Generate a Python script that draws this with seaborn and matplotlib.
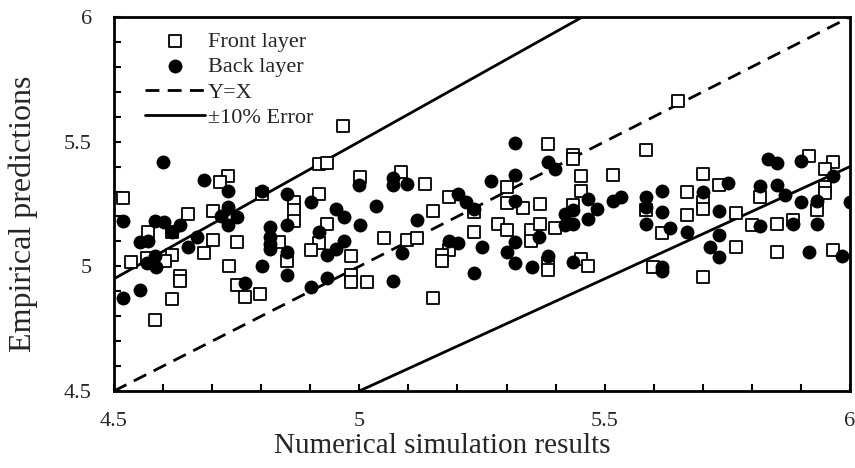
import numpy as np
import pandas as pd
import matplotlib
matplotlib.use('Agg')
import matplotlib.pyplot as plt
import seaborn as sns

# values
front_x = [4.518, 4.733, 4.717, 4.651, 4.701, 4.569, 4.618, 4.701, 4.750, 4.684,
           4.618, 4.535, 4.567, 4.603, 4.734, 4.635, 4.635, 4.750, 4.768, 4.798,
           4.618, 4.584, 4.967, 4.918, 4.935, 5.001, 5.084, 4.801, 4.918, 4.867,
           4.867, 4.867, 4.935, 4.837, 4.918, 4.901, 4.852, 4.984, 5.051, 5.098,
           4.984, 4.984, 5.016, 5.384, 5.134, 5.300, 5.183, 5.151, 5.234, 5.300,
           5.334, 5.368, 5.283, 5.300, 5.234, 5.350, 5.350, 5.368, 5.399, 5.117,
           5.183, 5.168, 5.168, 5.384, 5.384, 5.151, 5.650, 5.435, 5.435, 5.584,
           5.451, 5.518, 5.700, 5.451, 5.667, 5.435, 5.584, 5.700, 5.700, 5.667,
           5.616, 5.451, 5.467, 5.599, 5.700, 5.917, 5.966, 5.949, 5.734, 5.949,
           5.949, 5.817, 5.933, 5.768, 5.800, 5.851, 5.884, 5.768, 5.851, 5.966]
front_y = [5.275, 5.362, 5.338, 5.208, 5.220, 5.137, 5.137, 5.107, 5.096, 5.052,
           5.046, 5.019, 5.032, 5.023, 5.000, 4.960, 4.943, 4.925, 4.878, 4.891,
           4.869, 4.784, 5.562, 5.409, 5.414, 5.358, 5.378, 5.291, 5.291, 5.257,
           5.227, 5.180, 5.170, 5.099, 5.092, 5.066, 5.023, 5.043, 5.113, 5.106,
           4.965, 4.936, 4.936, 5.489, 5.329, 5.320, 5.277, 5.221, 5.217, 5.253,
           5.235, 5.251, 5.168, 5.144, 5.137, 5.146, 5.100, 5.170, 5.154, 5.114,
           5.066, 5.047, 5.023, 5.012, 4.985, 4.875, 5.663, 5.448, 5.432, 5.465,
           5.361, 5.367, 5.372, 5.304, 5.298, 5.244, 5.227, 5.257, 5.231, 5.207,
           5.133, 5.030, 5.003, 4.996, 4.956, 5.441, 5.418, 5.389, 5.327, 5.318,
           5.293, 5.277, 5.227, 5.213, 5.164, 5.168, 5.187, 5.079, 5.056, 5.067]

back_x = [4.600, 4.684, 4.733, 4.801, 4.518, 4.584, 4.602, 4.635, 4.618, 4.552,
          4.569, 4.733, 4.719, 4.750, 4.733, 4.669, 4.650, 4.584, 4.567, 4.585,
          4.801, 4.768, 4.552, 4.518, 4.852, 4.901, 5.000, 5.068, 5.068, 5.098,
          4.952, 4.969, 5.034, 5.001, 4.817, 4.817, 4.817, 4.817, 4.852, 4.918,
          4.969, 4.952, 4.935, 4.852, 4.852, 4.935, 4.901, 5.068, 5.086, 5.317,
          5.384, 5.399, 5.268, 5.317, 5.202, 5.217, 5.234, 5.317, 5.117, 5.183,
          5.202, 5.251, 5.300, 5.317, 5.367, 5.317, 5.351, 5.384, 5.234, 5.467,
          5.484, 5.467, 5.518, 5.533, 5.419, 5.435, 5.419, 5.435, 5.584, 5.584,
          5.584, 5.616, 5.616, 5.633, 5.667, 5.700, 5.435, 5.616, 5.616, 5.715,
          5.833, 5.851, 5.900, 5.966, 5.751, 5.817, 5.851, 5.867, 5.900, 5.933,
          6.000, 5.734, 5.817, 5.884, 5.933, 5.734, 5.734, 5.917, 5.983]
back_y = [5.418, 5.345, 5.304, 5.304, 5.180, 5.180, 5.177, 5.166, 5.137, 5.099,
          5.103, 5.237, 5.200, 5.197, 5.166, 5.117, 5.076, 5.040, 5.012, 4.996,
          5.000, 4.933, 4.905, 4.875, 5.291, 5.260, 5.327, 5.355, 5.327, 5.330,
          5.231, 5.197, 5.240, 5.166, 5.157, 5.117, 5.090, 5.070, 5.164, 5.137,
          5.103, 5.070, 5.046, 5.056, 4.965, 4.953, 4.916, 4.942, 5.054, 5.495,
          5.418, 5.389, 5.342, 5.365, 5.291, 5.260, 5.231, 5.264, 5.187, 5.100,
          5.092, 5.076, 5.056, 5.096, 5.119, 5.012, 4.999, 5.041, 4.972, 5.271,
          5.231, 5.188, 5.264, 5.280, 5.211, 5.224, 5.164, 5.170, 5.280, 5.237,
          5.170, 5.304, 5.217, 5.153, 5.137, 5.300, 5.016, 4.996, 4.980, 5.076,
          5.432, 5.414, 5.421, 5.361, 5.334, 5.324, 5.327, 5.288, 5.257, 5.264,
          5.260, 5.220, 5.160, 5.170, 5.168, 5.127, 5.036, 5.056, 5.043]

ref_x = [4.5, 6.0]
error_pct = 0.10
ticks = [4.5, 5.0, 5.5, 6.0]
tick_labels = ['4.5', '5', '5.5', '6']

front = pd.DataFrame({'x': front_x, 'y': front_y})
back = pd.DataFrame({'x': back_x, 'y': back_y})
ref = pd.DataFrame({'x': ref_x})
ref['y'] = ref['x']
ref['upper'] = ref['x'] * (1 + error_pct)
ref['lower'] = ref['x'] * (1 - error_pct)

sns.set_style('ticks')
plt.rcParams['font.family'] = ['Liberation Serif', 'DejaVu Serif']

fig = plt.figure(figsize=(8.55, 4.68), dpi=100)
ax = fig.add_axes([114 / 855, 1 - 391 / 468, 736 / 855, 374 / 468])

ax.plot(ref['x'], ref['y'], color='black', lw=2, dashes=(5, 3), label='Y=X', zorder=2)
ax.plot(ref['x'], ref['upper'], color='black', lw=2, label='\u00b110% Error', zorder=2)
ax.plot(ref['x'], ref['lower'], color='black', lw=2, zorder=2)

sns.scatterplot(data=front, x='x', y='y', ax=ax, marker='s', s=72,
                color='white', edgecolor='black', linewidth=1.3,
                label='Front layer', zorder=3)
sns.scatterplot(data=back, x='x', y='y', ax=ax, marker='o', s=100,
                color='black', edgecolor='black', linewidth=0,
                label='Back layer', zorder=4)

ax.set_xlim(4.5, 6.0)
ax.set_ylim(4.5, 6.0)
ax.set_xticks(ticks)
ax.set_xticklabels(tick_labels)
ax.set_yticks(ticks)
ax.set_yticklabels(tick_labels)
ax.set_xticks(np.arange(4.6, 6.0, 0.1), minor=True)
ax.set_yticks(np.arange(4.6, 6.0, 0.1), minor=True)
ax.tick_params(which='both', direction='in', length=5, width=1.5,
               labelsize=16, color='black')
ax.tick_params(axis='x', pad=15)
ax.tick_params(axis='y', pad=16)
for sp in ax.spines.values():
    sp.set_linewidth(2)
    sp.set_color('black')

ax.set_xlabel('Numerical simulation results', fontsize=21)
ax.set_ylabel('Empirical predictions', fontsize=23)
ax.xaxis.set_label_coords(0.446, -0.112)
ax.yaxis.set_label_coords(-0.103, 0.475)

handles, labels = ax.get_legend_handles_labels()
order = ['Front layer', 'Back layer', 'Y=X', '\u00b110% Error']
hmap = dict(zip(labels, handles))
ax.legend([hmap[k] for k in order], order, loc='upper left',
          bbox_to_anchor=(0.042, 0.962), frameon=False, fontsize=16,
          handlelength=2.7, handletextpad=0.12, labelspacing=0.22,
          borderaxespad=0, borderpad=0)

fig.savefig('out.png', dpi=100)
